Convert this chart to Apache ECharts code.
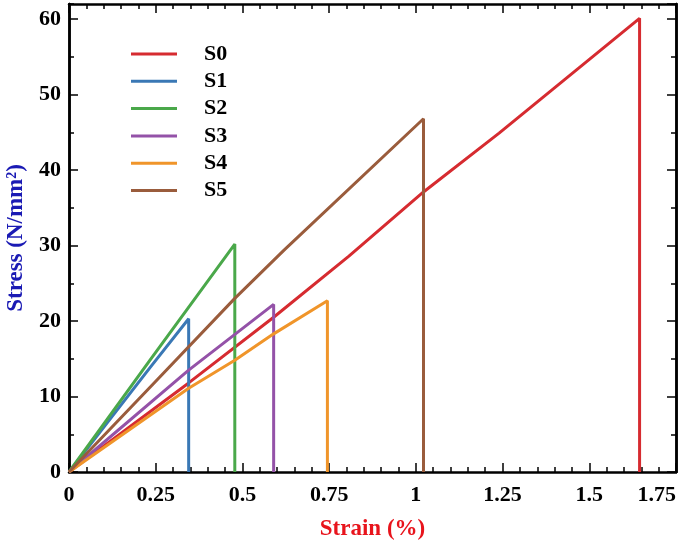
<!DOCTYPE html>
<html>
<head>
<meta charset="utf-8">
<script src="https://cdn.jsdelivr.net/npm/echarts@6/dist/echarts.min.js"></script>
<style>
html,body{margin:0;padding:0;background:#fff;}
#main{width:685px;height:540px;}
</style>
</head>
<body>
<div id="main"></div>
<script>
var names = ['S0', 'S1', 'S2', 'S3', 'S4', 'S5'];
var colors = ['#d62b30', '#3a78b5', '#4aa84a', '#9452a8', '#f0952a', '#9a5c3c'];
// strain (%) / stress (N/mm2), last point = break
var strainS0 = [0, 0.345, 0.59, 0.807, 1.022, 1.24, 1.645];
var stressS0 = [0, 11.8, 20.5, 28.6, 37.1, 44.9, 60.1];
var strainS1 = [0, 0.233, 0.345];
var stressS1 = [0, 13.8, 20.3];
var strainS2 = [0, 0.233, 0.478];
var stressS2 = [0, 14.8, 30.2];
var strainS3 = [0, 0.345, 0.59];
var stressS3 = [0, 13.5, 22.2];
var strainS4 = [0, 0.345, 0.478, 0.59, 0.745];
var stressS4 = [0, 11.1, 14.8, 18.3, 22.7];
var strainS5 = [0, 0.233, 0.478, 0.62, 1.022];
var stressS5 = [0, 11.2, 23.0, 29.4, 46.8];

var strains = [strainS0, strainS1, strainS2, strainS3, strainS4, strainS5];
var stresses = [stressS0, stressS1, stressS2, stressS3, stressS4, stressS5];

var mychart = echarts.init(document.getElementById('main'), null, {renderer: 'canvas'});
var font = 'Liberation Serif';

// each curve rises to break point then drops straight to zero
var series = [];
for (var i = 0; i < names.length; i++) {
	var pts = [];
	for (var j = 0; j < strains[i].length; j++) pts.push([strains[i][j], stresses[i][j]]);
	pts.push([strains[i][strains[i].length - 1], 0]);
	series.push({
		name: names[i],
		type: 'line',
		xAxisIndex: 0,
		yAxisIndex: 0,
		symbol: 'none',
		lineStyle: {width: 3, color: colors[i]},
		itemStyle: {color: colors[i]},
		data: pts
	});
}

function yAx(pos, interval, len, labels) {
	return {
		type: 'value', position: pos, min: 0, max: 62, interval: interval,
		axisLine: {show: true, onZero: false, lineStyle: {color: '#000', width: 2.5}},
		axisTick: {show: true, inside: true, length: len, lineStyle: {color: '#000', width: 1.5}},
		axisLabel: {show: labels, showMaxLabel: false, color: '#000', fontFamily: font, fontWeight: 'bold', fontSize: 22, margin: 8},
		splitLine: {show: false}
	};
}

var option = {
	animation: false,
	color: colors,
	grid: {left: 69, right: 9, top: 4, bottom: 68, containLabel: false, outerBoundsMode: 'none'},
	legend: {
		orient: 'vertical', left: 131, top: 43, padding: 0,
		itemWidth: 46, itemHeight: 3, itemGap: 5.3, icon: 'rect',
		textStyle: {fontFamily: font, fontWeight: 'bold', fontSize: 22, color: '#000', lineHeight: 21, padding: [0, 0, 0, 22]},
		data: names
	},
	xAxis: [{
		type: 'value', position: 'bottom', min: 0, max: 1.75, interval: 0.25,
		name: 'Strain (%)', nameLocation: 'middle', nameGap: 46,
		nameTextStyle: {color: '#e8141c', fontFamily: font, fontWeight: 'bold', fontSize: 23},
		axisLine: {show: true, onZero: false, lineStyle: {color: '#000', width: 2.5}},
		axisTick: {show: true, inside: true, length: 9, lineStyle: {color: '#000', width: 1.5}},
		minorTick: {show: true, splitNumber: 5, length: 5, lineStyle: {color: '#000', width: 1.5}},
		axisLabel: {color: '#000', fontFamily: font, fontWeight: 'bold', fontSize: 22, margin: 12, alignMaxLabel: 'right',
			formatter: function (v) { return String(+v.toFixed(2)); }},
		splitLine: {show: false}
	}, {
		type: 'value', position: 'top', min: 0, max: 1.75, interval: 0.25,
		axisLine: {show: true, onZero: false, lineStyle: {color: '#000', width: 2.5}},
		axisTick: {show: true, inside: true, length: 9, lineStyle: {color: '#000', width: 1.5}},
		minorTick: {show: true, splitNumber: 5, length: 5, lineStyle: {color: '#000', width: 1.5}},
		axisLabel: {show: false},
		splitLine: {show: false}
	}],
	yAxis: [
		Object.assign(yAx('left', 10, 9, true), {
			name: 'Stress (N/mm²)', nameLocation: 'middle', nameGap: 41,
			nameTextStyle: {color: '#1a1ab4', fontFamily: font, fontWeight: 'bold', fontSize: 23}
		}),
		yAx('left', 5, 5, false),
		yAx('right', 10, 9, false),
		yAx('right', 5, 5, false)
	],
	series: series
};
mychart.setOption(option);
</script>
</body>
</html>
